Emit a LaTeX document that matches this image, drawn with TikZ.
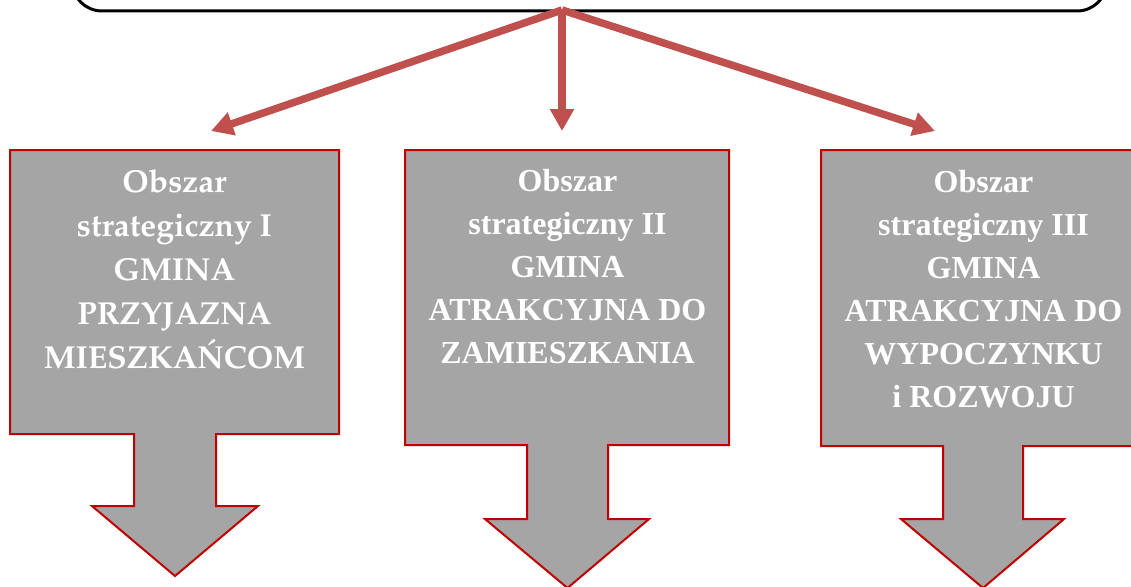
\documentclass[tikz,border=0pt]{standalone}
\usepackage[T1]{fontenc}
\usepackage{fontspec}
\usetikzlibrary{arrows.meta}
\newfontfamily\timesfont{Liberation Serif}
\definecolor{boxgray}{HTML}{A5A5A5}
\definecolor{boxred}{HTML}{C00000}
\definecolor{arrowred}{HTML}{C0504D}
\newcommand{\pagfont}{\fontencoding{T1}\fontfamily{ppl}\fontseries{b}\fontshape{n}\selectfont}
\tikzset{
  topbox/.style={draw=black, line width=3pt, rounded corners=30pt, minimum width=1035pt, minimum height=80pt, inner sep=0pt},
  conn/.style={draw=arrowred, line width=7.5pt, -{Triangle[length=22pt,width=23pt]}},
  areashape/.style={fill=boxgray, draw=boxred, line width=2pt, line join=miter},
  txtone/.style={text=white, align=center, inner sep=0pt, font={\pagfont\fontsize{31.8}{44}\selectfont}},
  txttwo/.style={text=white, align=center, inner sep=0pt, font={\timesfont\bfseries\fontsize{32}{43}\selectfont}}
}
\begin{document}
\begin{tikzpicture}[x=1pt,y=-1pt]
\useasboundingbox (0,0) rectangle (1131,586);
\clip (0,0) rectangle (1131,586);
% top box
\node[topbox] (top) at (589.5,-29) {};
\coordinate (src) at (562,10);
% area shapes
\draw[areashape] (10,150) -- (339,150) -- (339,434) -- (216,434) -- (216,506) -- (258,506) -- (175,576) -- (92,506) -- (134,506) -- (134,434) -- (10,434) -- cycle;
\draw[areashape] (405,150) -- (729,150) -- (729,445) -- (608,445) -- (608,519) -- (649,519) -- (567.5,588) -- (485,519) -- (527,519) -- (527,445) -- (405,445) -- cycle;
\draw[areashape] (821,150) -- (1142,150) -- (1142,446) -- (1023,446) -- (1023,519) -- (1064,519) -- (983,588) -- (901,519) -- (943,519) -- (943,446) -- (821,446) -- cycle;
% texts
\node[txtone] (b1) at (174.5,269) {Obszar\\strategiczny I\\GMINA\\PRZYJAZNA\\MIESZKA\'NCOM};
\node[txttwo] (b2) at (567.5,267) {Obszar\\strategiczny II\\GMINA\\ATRAKCYJNA DO\\ZAMIESZKANIA};
\node[txttwo] (b3) at (983.5,289) {Obszar\\strategiczny III\\GMINA\\ATRAKCYJNA DO\\WYPOCZYNKU\\i ROZWOJU};
% arrow tips
\coordinate (t1) at (211,131);
\coordinate (t2) at (562,131);
\coordinate (t3) at (935,131);
\draw[conn] (src) -- (t1);
\draw[conn] (src) -- (t2);
\draw[conn] (src) -- (t3);
\end{tikzpicture}
\end{document}
